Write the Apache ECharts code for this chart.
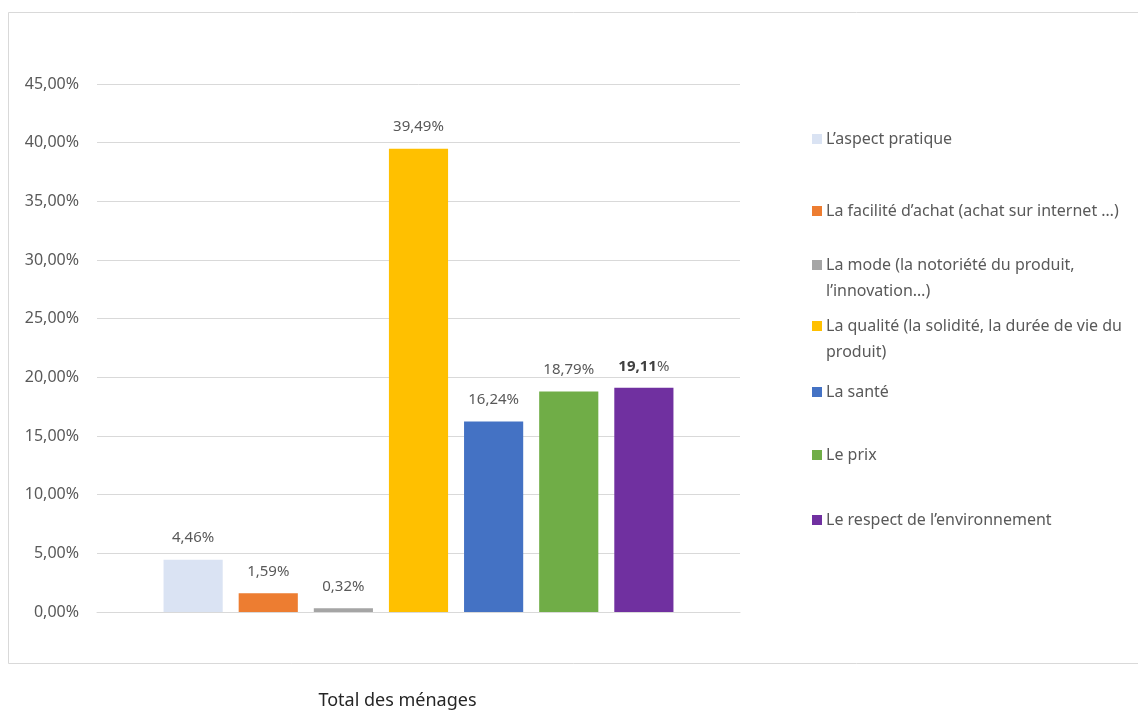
<!DOCTYPE html>
<html>
<head>
<meta charset="utf-8">
<script src="https://cdn.jsdelivr.net/npm/echarts@6/dist/echarts.min.js"></script>
<style>
html,body{margin:0;padding:0;background:#fff;}
#chart{width:1138px;height:711px;}
</style>
</head>
<body>
<div id="chart"></div>
<script>
const categories = ['Total des ménages'];
const seriesNames = [
  'L’aspect pratique',
  'La facilité d’achat (achat sur internet …)',
  'La mode (la notoriété du produit,\nl’innovation…)',
  'La qualité (la solidité, la durée de vie du\nproduit)',
  'La santé',
  'Le prix',
  'Le respect de l’environnement'
];
const seriesValues = [4.46, 1.59, 0.32, 39.49, 16.24, 18.79, 19.11];
const seriesColors = ['#DAE3F3', '#ED7D31', '#A5A5A5', '#FFC000', '#4472C4', '#70AD47', '#7030A0'];
const yTicks = { min: 0, max: 45, interval: 5 };
const legendTops = [126, 198, 252, 313, 379, 442, 507];

const FONT = '"Noto Sans", "Open Sans", sans-serif';
const fmt = v => v.toFixed(2).replace('.', ',') + '%';

const chart = echarts.init(document.getElementById('chart'), null, { renderer: 'canvas' });

const series = seriesNames.map((name, i) => ({
  name: name,
  type: 'bar',
  data: [seriesValues[i]],
  itemStyle: { color: seriesColors[i] },
  barGap: '27%',
  barCategoryGap: '20.7%',
  label: {
    show: true,
    position: 'top',
    distance: 14,
    fontFamily: FONT,
    fontSize: 15,
    color: '#595959',
    formatter: i === 6
      ? (p => '{b|' + p.value.toFixed(2).replace('.', ',') + '}%')
      : (p => fmt(p.value)),
    rich: { b: { fontWeight: 'bold', fontFamily: FONT, fontSize: 15, color: '#404040' } }
  }
}));

const legends = seriesNames.map((name, i) => {
  const multi = name.indexOf('\n') >= 0;
  return {
    data: [name],
    orient: 'vertical',
    left: 812,
    top: legendTops[i],
    padding: 0,
    itemWidth: 10,
    itemHeight: multi ? 36 : 10,
    icon: multi ? 'path://M0,0H10V10H0Z M0,35.99H0.01V36H0Z' : 'rect',
    selectedMode: false,
    textStyle: { fontFamily: FONT, fontSize: 16, color: '#595959', lineHeight: 26, padding: [0, 0, 0, -1] }
  };
});

chart.setOption({
  animation: false,
  backgroundColor: '#fff',
  graphic: [{
    type: 'rect',
    shape: { x: 8.5, y: 12.5, width: 1140, height: 651 },
    style: { fill: 'none', stroke: '#d9d9d9', lineWidth: 1 },
    silent: true
  }],
  legend: legends,
  grid: { left: 97, right: 398, top: 84, bottom: 99, containLabel: false },
  xAxis: {
    type: 'category',
    data: categories,
    axisLine: { show: true, lineStyle: { color: '#d9d9d9' } },
    axisTick: { show: false },
    axisLabel: {
      margin: 80,
      fontFamily: FONT,
      fontSize: 18,
      color: '#262626',
      padding: [0, 42, 0, 0]
    }
  },
  yAxis: {
    type: 'value',
    min: yTicks.min,
    max: yTicks.max,
    interval: yTicks.interval,
    axisLine: { show: false },
    axisTick: { show: false },
    splitLine: { lineStyle: { color: '#d9d9d9' } },
    axisLabel: {
      margin: 18,
      fontFamily: FONT,
      fontSize: 16,
      color: '#595959',
      formatter: v => fmt(v)
    }
  },
  series: series
});
</script>
</body>
</html>
